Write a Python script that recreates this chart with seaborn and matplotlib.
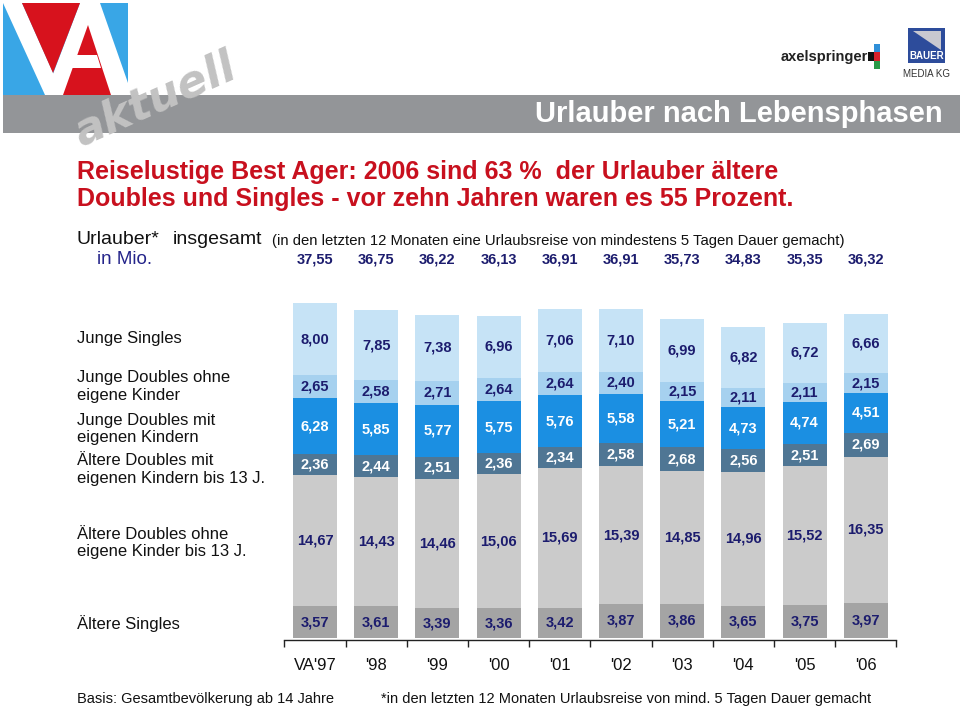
import numpy as np
import pandas as pd
import seaborn as sns
import matplotlib
matplotlib.use("Agg")
import matplotlib.pyplot as plt
import matplotlib.transforms as mtransforms
from matplotlib.patches import Polygon, Rectangle

# ---------------- data ----------------
years = ["VA'97", "'98", "'99", "'00", "'01", "'02", "'03", "'04", "'05", "'06"]
totals = ["37,55", "36,75", "36,22", "36,13", "36,91", "36,91", "35,73", "34,83", "35,35", "36,32"]

aeltere_singles = [3.57, 3.61, 3.39, 3.36, 3.42, 3.87, 3.86, 3.65, 3.75, 3.97]
aeltere_doubles_ohne = [14.67, 14.43, 14.46, 15.06, 15.69, 15.39, 14.85, 14.96, 15.52, 16.35]
aeltere_doubles_mit = [2.36, 2.44, 2.51, 2.36, 2.34, 2.58, 2.68, 2.56, 2.51, 2.69]
junge_doubles_mit = [6.28, 5.85, 5.77, 5.75, 5.76, 5.58, 5.21, 4.73, 4.74, 4.51]
junge_doubles_ohne = [2.65, 2.58, 2.71, 2.64, 2.64, 2.40, 2.15, 2.11, 2.11, 2.15]
junge_singles = [8.00, 7.85, 7.38, 6.96, 7.06, 7.10, 6.99, 6.82, 6.72, 6.66]

segments = [aeltere_singles, aeltere_doubles_ohne, aeltere_doubles_mit,
            junge_doubles_mit, junge_doubles_ohne, junge_singles]
seg_colors = ["#a4a4a4", "#cbcbcb", "#4f7694", "#1b8fe2", "#a6d1ef", "#c6e3f6"]
lab_colors = ["#1c1c6e", "#1c1c6e", "#ffffff", "#ffffff", "#1c1c6e", "#1c1c6e"]

cat_labels = ["Junge Singles",
              "Junge Doubles ohne\neigene Kinder",
              "Junge Doubles mit\neigenen Kindern",
              "Ältere Doubles mit\neigenen Kindern bis 13 J.",
              "Ältere Doubles ohne\neigene Kinder bis 13 J.",
              "Ältere Singles"]

W, H = 960, 708
sns.set_theme(style="white")
plt.rcParams['font.family'] = ['Liberation Sans', 'DejaVu Sans']

fig = plt.figure(figsize=(W / 100, H / 100), dpi=100)
fig.patch.set_facecolor("white")

# background / decoration axes in pixel coordinates
bg = fig.add_axes([0, 0, 1, 1], zorder=0)
bg.set_xlim(0, W)
bg.set_ylim(H, 0)
bg.axis("off")

# ---------------- header ----------------
bg.add_patch(Rectangle((3, 95), W - 3, 38, color="#939598", lw=0))
# VA logo
bg.add_patch(Rectangle((3, 3), 125, 92, color="#39a6e6", lw=0))
bg.add_patch(Polygon([(3, 3), (22, 3), (63, 95), (45, 95)], color="white", lw=0))
bg.add_patch(Polygon([(80, 3), (100, 3), (128, 83), (128, 95), (45, 95)], color="white", lw=0))
bg.add_patch(Polygon([(22, 3), (80, 3), (53, 73)], color="#d7121d", lw=0))
bg.add_patch(Polygon([(88, 25), (63, 95), (111, 95)], color="#d7121d", lw=0))
bg.add_patch(Polygon([(76.5, 55), (97, 55), (101, 68), (71.5, 68)], color="white", lw=0))
bg.text(155, 100, "aktuell", fontsize=32, style="italic", fontweight="bold",
        color="#c2c2c2", rotation=24, ha="center", va="center",
        family=['DejaVu Sans'])
bg.text(943, 114, "Urlauber nach Lebensphasen", fontsize=21, color="white",
        ha="right", va="center", fontweight="bold")

# axel springer logo
bg.text(868, 57, "axelspringer", fontsize=10.5, fontweight="bold", color="#222222",
        ha="right", va="center")
bg.add_patch(Rectangle((874, 44), 6, 8, color="#2f8fd8", lw=0))
bg.add_patch(Rectangle((868, 52), 6, 9, color="#111111", lw=0))
bg.add_patch(Rectangle((874, 52), 6, 9, color="#d8202a", lw=0))
bg.add_patch(Rectangle((874, 61), 6, 8, color="#2a9a48", lw=0))
# Bauer logo
bg.add_patch(Rectangle((908, 28), 37, 35, color="#2d4c9b", lw=0))
bg.add_patch(Polygon([(913, 31), (941, 31), (941, 50)], color="#c8c8d0", lw=0))
bg.text(926.5, 56, "BAUER", fontsize=7, fontweight="bold", color="white",
        ha="center", va="center")
bg.text(926.5, 74, "MEDIA KG", fontsize=7, color="#333333", ha="center", va="center")

# headline
red = "#c8101e"
bg.text(77, 172, "Reiselustige Best Ager: 2006 sind 63 %  der Urlauber ältere",
        fontsize=18, fontweight="bold", color=red, va="center")
bg.text(77, 199, "Doubles und Singles - vor zehn Jahren waren es 55 Prozent.",
        fontsize=18, fontweight="bold", color=red, va="center")
bg.text(77, 240, "Urlauber*", fontsize=14, color="#111111", va="center")
bg.text(173, 240, "insgesamt", fontsize=14, color="#111111", va="center")
bg.text(272, 241, "(in den letzten 12 Monaten eine Urlaubsreise von mindestens 5 Tagen Dauer gemacht)",
        fontsize=10.7, color="#111111", va="center")
navy = "#1c1c6e"
bg.text(97, 259, "in Mio.", fontsize=13.5, color="#24248a", va="center")

# category labels
cat_y = [339, 386.5, 429, 469.5, 543, 624]
for lab, yy in zip(cat_labels, cat_y):
    bg.text(77, yy, lab, fontsize=12, color="#111111", va="center",
            linespacing=1.2)

# footer
bg.text(77, 699, "Basis: Gesamtbevölkerung ab 14 Jahre", fontsize=10.5,
        color="#111111", va="center")
bg.text(381, 699, "*in den letzten 12 Monaten Urlaubsreise von mind. 5 Tagen Dauer gemacht",
        fontsize=10.5, color="#111111", va="center")

# ---------------- chart ----------------
px_unit = 8.97
x_left, x_right = 284.4, 896.4
y_base = 640
y_top_val = 38.0
ax = fig.add_axes([x_left / W, (H - y_base) / H, (x_right - x_left) / W,
                   y_top_val * px_unit / H], zorder=2)
ax.patch.set_alpha(0)

cum = np.cumsum(np.array(segments), axis=0)
df = pd.DataFrame({"year": years})
for k in range(len(segments) - 1, -1, -1):
    df["v"] = cum[k]
    sns.barplot(data=df, x="year", y="v", order=years, color=seg_colors[k],
                width=0.72, saturation=1, ax=ax, linewidth=0, zorder=2)

for k, seg in enumerate(segments):
    bottoms = cum[k] - np.array(seg)
    for i, v in enumerate(seg):
        ax.text(i, bottoms[i] + v / 2, f"{v:.2f}".replace(".", ","),
                ha="center", va="center", fontsize=10.5, fontweight="bold",
                color=lab_colors[k], zorder=5)

ax.set_xlim(-0.5, 9.5)
ax.set_ylim(-0.2, y_top_val)
ax.set_xlabel("")
ax.set_ylabel("")
ax.set_yticks([])
ax.set_xticks(range(len(years)))
ax.set_xticklabels(years, fontsize=12, color="#111111")
ax.set_xticks(np.arange(-0.5, len(years)), minor=True)
ax.tick_params(axis="x", which="major", length=0, pad=13)
ax.tick_params(axis="x", which="minor", length=5, width=1, color="#222222",
               direction="out", bottom=True)
for s in ["left", "right", "top"]:
    ax.spines[s].set_visible(False)
ax.spines["bottom"].set_color("#222222")
ax.spines["bottom"].set_linewidth(1)

# totals row aligned with bar columns
tr = mtransforms.blended_transform_factory(ax.transData, bg.transData)
for i, t in enumerate(totals):
    ax.text(i, 259, t, transform=tr, ha="center", va="center", fontsize=10.5,
            fontweight="bold", color=navy, clip_on=False)

fig.savefig("out.png", dpi=100, facecolor="white")
